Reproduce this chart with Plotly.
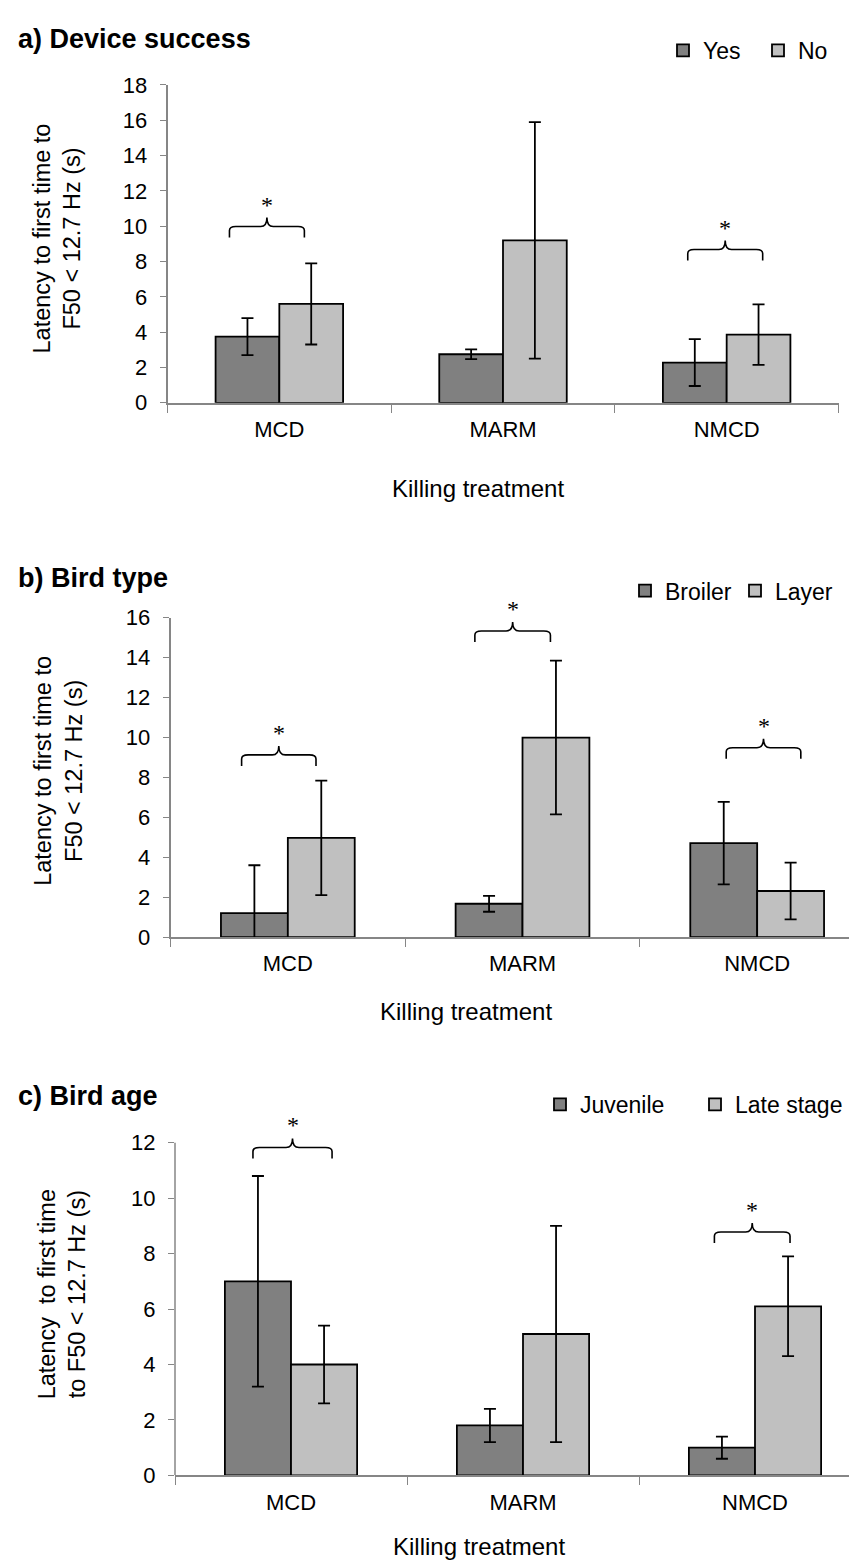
import plotly.graph_objects as go

W, H = 857, 1564

categories = ["MCD", "MARM", "NMCD"]

# a) Device success
a_yes = [3.75, 2.75, 2.28]
a_yes_err = [1.05, 0.28, 1.33]
a_no = [5.6, 9.2, 3.86]
a_no_err = [2.3, 6.7, 1.71]

# b) Bird type
b_broiler = [1.2, 1.67, 4.71]
b_broiler_err = [2.4, 0.4, 2.07]
b_layer = [4.97, 10.0, 2.31]
b_layer_err = [2.87, 3.85, 1.42]

# c) Bird age
c_juv = [7.0, 1.8, 1.0]
c_juv_err = [3.8, 0.6, 0.4]
c_late = [4.0, 5.1, 6.1]
c_late_err = [1.4, 3.9, 1.8]

# significance brackets: (category, left offset, right offset, level)
a_sig = [("MCD", -0.223, 0.112, 9.98), ("NMCD", -0.174, 0.161, 8.68)]
b_sig = [("MCD", -0.197, 0.120, 9.13), ("MARM", -0.203, 0.119, 15.34),
         ("NMCD", -0.132, 0.186, 9.49)]
c_sig = [("MCD", -0.164, 0.177, 11.83), ("NMCD", -0.175, 0.151, 8.78)]

DARK = "#808080"
LIGHT = "#C0C0C0"
AXC = "#868686"
FONT = "Liberation Sans, Arial, sans-serif"

def px_x(p):
    return p / W

def px_y(p):
    return 1 - p / H

panels = [
    dict(xid="x", yid="y", legend="legend",
         s1=("Yes", a_yes, a_yes_err), s2=("No", a_no, a_no_err),
         xdom=[px_x(159.5), px_x(830.5)], xrange=[-0.5, 2.5],
         ydom=[px_y(389), px_y(66)], yrange=[0, 18], ytop=18, sig=a_sig,
         title="a) Device success", title_y=19,
         ytitle="Latency to first time to<br>F50 < 12.7 Hz (s)", ytitle_x=49, ytitle_y=222,
         xtitle_x=470, xtitle_y=476,
         leg_x=845, leg_y=31, entry=50),
    dict(xid="x2", yid="y2", legend="legend2",
         s1=("Broiler", b_broiler, b_broiler_err), s2=("Layer", b_layer, b_layer_err),
         xdom=[px_x(162.5), 1.0], xrange=[-0.5, -0.5 + (W - 162.5) / 234.67],
         ydom=[px_y(932), px_y(607.5)], yrange=[0, 16], ytop=16, sig=b_sig,
         title="b) Bird type", title_y=567,
         ytitle="Latency to first time to<br>F50 < 12.7 Hz (s)", ytitle_x=51, ytitle_y=763,
         xtitle_x=458, xtitle_y=1008,
         leg_x=837, leg_y=580, entry=65),
    dict(xid="x3", yid="y3", legend="legend3",
         s1=("Juvenile", c_juv, c_juv_err), s2=("Late stage", c_late, c_late_err),
         xdom=[px_x(167), 1.0], xrange=[-0.5, -0.5 + (W - 167) / 232.0],
         ydom=[px_y(1479), px_y(1124.1)], yrange=[0, 12.6], ytop=12, sig=c_sig,
         title="c) Bird age", title_y=1093,
         ytitle="Latency\u00a0 to first time<br>to F50 < 12.7 Hz (s)", ytitle_x=54, ytitle_y=1295,
         xtitle_x=471, xtitle_y=1551,
         leg_x=842, leg_y=1102, entry=110),
]

fig = go.Figure()
shapes = []
annotations = []
layout = {}

def brace_path(xl, xr, drop=11, rise=9, rx=0.028):
    xc = (xl + xr) / 2
    return (f"M{xl},{-drop} L{xl},-4 Q{xl},0 {xl + rx},0 L{xc - rx},0 "
            f"Q{xc},0 {xc},{rise} Q{xc},0 {xc + rx},0 L{xr - rx},0 "
            f"Q{xr},0 {xr},-4 L{xr},{-drop}")

for p in panels:
    for (name, vals, errs), col in ((p["s1"], DARK), (p["s2"], LIGHT)):
        fig.add_trace(go.Bar(
            x=categories, y=vals, name=name,
            xaxis=p["xid"], yaxis=p["yid"], legend=p["legend"],
            marker=dict(color=col, line=dict(color="black", width=1.8)),
            error_y=dict(type="data", array=errs, visible=True,
                         color="black", thickness=1.8, width=6),
        ))
    xkey = "xaxis" + p["xid"][1:]
    ykey = "yaxis" + p["yid"][1:]
    layout[xkey] = dict(
        domain=p["xdom"], anchor=p["yid"], type="category",
        categoryorder="array", categoryarray=categories,
        range=p["xrange"], tickson="boundaries", ticks="outside", ticklen=8,
        tickcolor=AXC, tickwidth=1.3, showline=True, linecolor=AXC, linewidth=1.5,
        showgrid=False, zeroline=False, ticklabelstandoff=6,
        tickfont=dict(family=FONT, size=22, color="black"), fixedrange=True,
    )
    layout[ykey] = dict(
        domain=p["ydom"], anchor=p["xid"], range=p["yrange"], dtick=2,
        ticks="outside", ticklen=6, tickcolor=AXC, tickwidth=1.3,
        showline=(p["ytop"] == p["yrange"][1]), linecolor=AXC, linewidth=1.5,
        showgrid=False, zeroline=False, ticklabelstandoff=8,
        tickfont=dict(family=FONT, size=22, color="black"), fixedrange=True,
    )
    if p["ytop"] != p["yrange"][1]:
        shapes.append(dict(type="line", xref=p["xid"] + " domain", yref=p["yid"],
                           x0=0, x1=0, y0=0, y1=p["ytop"],
                           line=dict(color=AXC, width=1.5)))
    layout[p["legend"]] = dict(
        orientation="h", x=px_x(p["leg_x"]), xanchor="right",
        y=px_y(p["leg_y"]), yanchor="middle", bgcolor="rgba(0,0,0,0)",
        font=dict(family=FONT, size=23, color="black"),
        entrywidth=p["entry"], entrywidthmode="pixels", itemclick=False,
    )
    for cat, lo, hi, lvl in p["sig"]:
        ci = categories.index(cat)
        xl, xr = ci + lo, ci + hi
        shapes.append(dict(type="path", xref=p["xid"], yref=p["yid"],
                           ysizemode="pixel", yanchor=lvl,
                           path=brace_path(xl, xr),
                           line=dict(color="black", width=1.6)))
        annotations.append(dict(x=(xl + xr) / 2, y=lvl, xref=p["xid"], yref=p["yid"],
                                text="*", showarrow=False, yshift=22,
                                font=dict(family="Liberation Serif, Times New Roman, serif",
                                          size=24, color="black")))
    annotations.append(dict(x=8 / W, y=px_y(p["title_y"]), xref="paper", yref="paper",
                            xanchor="left", yanchor="middle", showarrow=False,
                            text="<b>" + p["title"] + "</b>",
                            font=dict(family=FONT, size=27, color="black")))
    annotations.append(dict(x=px_x(p["ytitle_x"]), y=px_y(p["ytitle_y"]),
                            xref="paper", yref="paper", xanchor="center", yanchor="middle",
                            showarrow=False, textangle=-90, text=p["ytitle"],
                            font=dict(family=FONT, size=23.5, color="black")))
    annotations.append(dict(x=px_x(p["xtitle_x"]), y=px_y(p["xtitle_y"]),
                            xref="paper", yref="paper", xanchor="center", yanchor="middle",
                            showarrow=False, text="Killing treatment",
                            font=dict(family=FONT, size=24, color="black")))

fig.update_layout(
    width=W, height=H, margin=dict(l=0, r=0, t=0, b=0),
    paper_bgcolor="white", plot_bgcolor="white",
    barmode="group", bargap=0.43, bargroupgap=0,
    shapes=shapes, annotations=annotations, showlegend=True,
    font=dict(family=FONT, size=22, color="black"),
    **layout,
)

fig.write_html("out.html")
